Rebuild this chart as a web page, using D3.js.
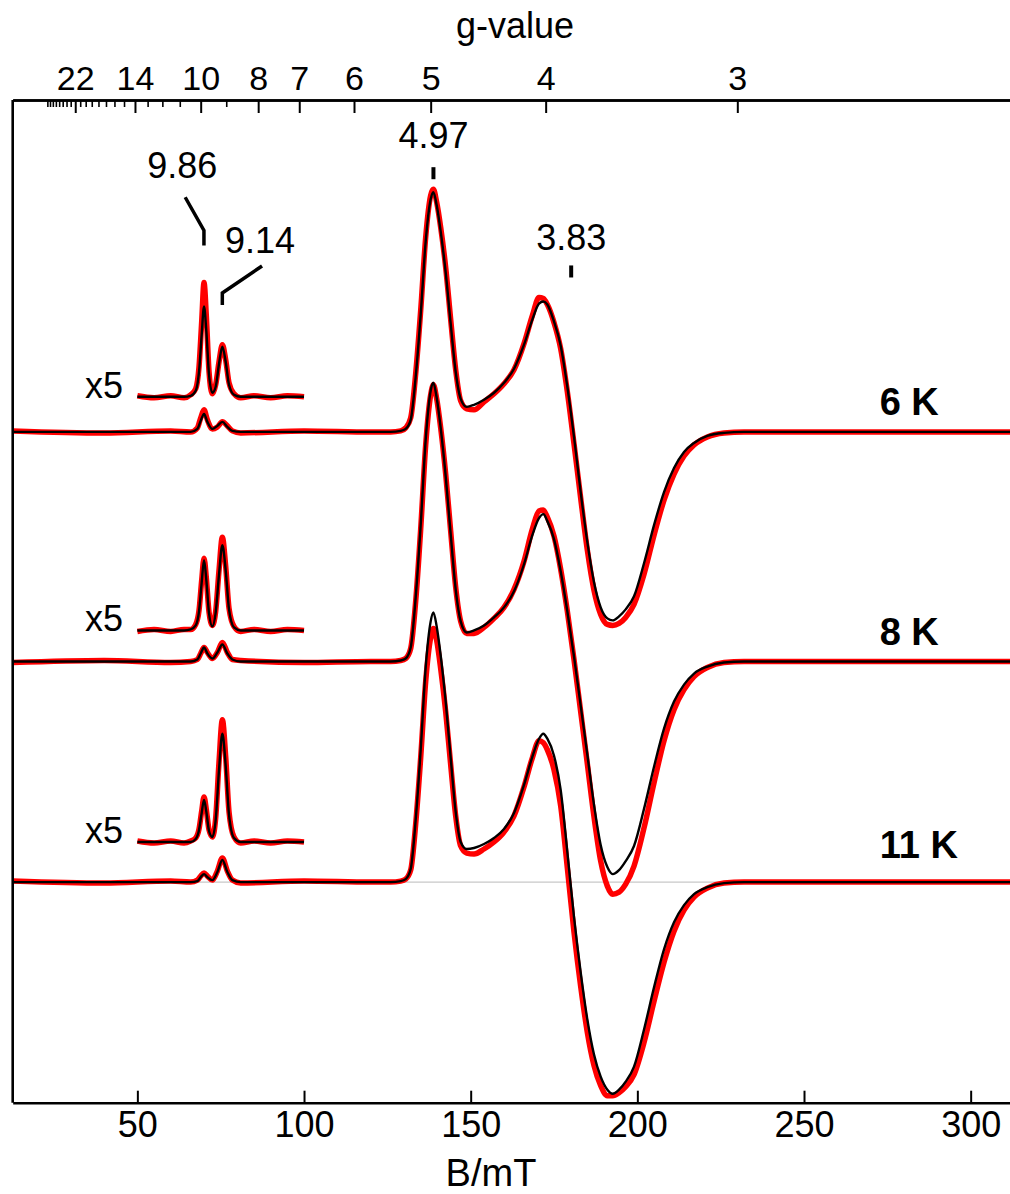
<!DOCTYPE html>
<html>
<head>
<meta charset="utf-8">
<script src="https://cdn.jsdelivr.net/npm/d3@7"></script>
<style>
  body { margin: 0; background: #fff; }
  svg { display: block; font-family: "Liberation Sans", Arial, Helvetica, sans-serif; }
</style>
</head>
<body>
<svg id="chart"></svg>
<script>
// microwave frequency (GHz), used to turn g-values into field positions
const mwFreq = 9.657;

const gMajor = [22, 14, 10, 8, 7, 6, 5, 4, 3];
const gMinor = [9, 11, 12, 13, 15, 16, 17, 18, 19, 20, 21, 23, 24, 25, 26, 27, 28, 29, 30];
const fieldTicks = [50, 100, 150, 200, 250, 300];

const temps = ["6 K", "8 K", "11 K"];

// full spectra, B in mT, intensity in a.u.
const fieldMain = [12.6, 40, 60, 66, 68, 69, 70, 71, 72.5, 74, 75.5, 77, 78.5, 81, 100, 120,
  126, 129, 130.5, 132, 133.5, 135, 136.5, 138, 138.8, 139.8, 141, 142.5, 144, 145.5, 147, 148.8,
  151, 154, 157, 160, 163, 166, 168.5, 170.5, 171.8, 173, 175, 177, 179, 181, 183, 185, 187, 189, 191, 192.6,
  194.5, 196.5, 199, 202, 205, 208, 211, 214, 217, 221, 226, 232, 240, 260, 312.4];

const sim6K = [0, 0, 0, 0, 3, 11, 18, 10, 3, 6, 10, 5, 1, 0, 0, 0,
  0, 1, 3, 12, 55, 117, 190, 232, 239, 226, 200, 159, 108, 60, 33, 25,
  27, 32, 39, 49, 63, 87, 112, 128, 130, 127, 110, 86, 45, -5, -60, -110, -150, -175, -186, -188,
  -184, -177, -164, -131, -93, -60, -36, -20, -11, -4, -1, 0, 0, 0, 0];
const exp6K = [1, -1, 1, 0, 4, 14, 22, 12, 3, 5, 10, 6, 1, -1, 1, 0,
  0, 1, 4, 14, 58, 121, 194, 236, 242, 229, 204, 164, 112, 62, 31, 23,
  22, 30, 38, 48, 62, 88, 116, 134, 133, 127, 109, 83, 40, -12, -66, -118, -158, -182, -192, -193,
  -191, -185, -172, -142, -103, -68, -42, -24, -13, -5, -1, 0, 0, 0, 0];

const sim8K = [0, 0, 0, 0, 2, 8, 14, 8, 3, 9, 17, 8, 2, 0, 0, 0,
  0, 1, 3, 14, 64, 136, 221, 270, 278, 263, 233, 185, 127, 72, 40, 29,
  31, 36, 44, 54, 70, 97, 126, 143, 147, 140, 122, 90, 50, 5, -44, -93, -143, -183, -205, -212,
  -208, -199, -184, -147, -105, -67, -40, -23, -12, -5, -1, 0, 0, 0, 0];
const exp8K = [-1, 1, -1, 0, 2, 8, 14, 9, 3, 9, 19, 9, 2, 1, -1, 0,
  0, 1, 3, 13, 60, 132, 216, 266, 276, 262, 233, 187, 130, 74, 40, 28,
  28, 34, 43, 54, 72, 100, 132, 150, 151, 144, 125, 92, 50, 2, -50, -102, -155, -199, -224, -232,
  -230, -222, -204, -166, -121, -79, -48, -28, -15, -6, -1, 0, 0, 0, 0];

const sim11K = [0, 0, 0, 0, 1, 5, 8, 5, 2, 10, 22, 10, 2, 0, 0, 0,
  0, 1, 3, 13, 62, 132, 214, 260, 269, 255, 226, 180, 124, 70, 40, 33,
  34, 38, 44, 53, 69, 97, 125, 143, 148, 143, 126, 92, 30, -35, -90, -137, -172, -194, -207, -211,
  -207, -199, -184, -147, -105, -67, -40, -23, -12, -5, -1, 0, 0, 0, 0];
const exp11K = [1, -1, 1, 0, 2, 6, 9, 6, 2, 11, 24, 11, 2, -1, 1, 0,
  0, 1, 3, 12, 58, 124, 200, 244, 253, 241, 213, 170, 117, 66, 36, 29,
  28, 33, 40, 50, 66, 95, 124, 141, 139, 132, 112, 76, 14, -50, -104, -150, -183, -203, -213, -213,
  -210, -204, -192, -160, -119, -80, -49, -28, -15, -6, -1, 0, 0, 0, 0];

// low-field region shown x5
const fieldZoom = [50, 55, 60, 64, 66, 67.5, 68.5, 69.3, 70, 70.7, 71.5, 72.5, 73.5, 74.5, 75.5, 76.5, 77.5, 79, 81, 85, 90, 95, 100];
const sim6Kx5 = [0, 0, 0, 0, 1, 6, 25, 62, 90, 65, 22, 4, 10, 33, 50, 35, 12, 2, 0, 0, 0, 0, 0];
const exp6Kx5 = [1, -1, 1, -1, 2, 8, 30, 75, 114, 80, 25, 3, 12, 35, 52, 37, 14, 3, -1, 1, -1, 1, 0];
const sim8Kx5 = [0, 0, 0, 0, 1, 5, 19, 48, 70, 50, 17, 4, 18, 56, 85, 60, 21, 3, 0, 0, 0, 0, 0];
const exp8Kx5 = [-1, 1, -1, 1, 1, 6, 20, 50, 72, 52, 18, 5, 19, 60, 93, 64, 22, 4, -1, 1, -1, 1, 0];
const sim11Kx5 = [0, 0, 0, 0, 0, 3, 12, 29, 42, 30, 11, 5, 22, 72, 108, 76, 27, 4, 0, 0, 0, 0, 0];
const exp11Kx5 = [1, -1, 1, -1, 1, 4, 13, 31, 45, 32, 12, 5, 24, 80, 122, 85, 30, 5, -1, 1, -1, 1, 0];

const width = 1010;
const height = 1194;

const svg = d3.select("#chart")
  .attr("width", width)
  .attr("height", height);

const x = d3.scaleLinear().domain([12.6, 312.4]).range([12.7, 1012]);
const y = d3.scaleLinear().domain([-220, 780]).range([1102.7, 100]);

const gToB = g => 71.4477 * mwFreq / g;
const bToG = b => 71.4477 * mwFreq / b;

// vertical stacking of the three temperatures
const offsets = [449, 220, 0];
const zoomOffsets = [484, 251, 40];

svg.append("clipPath").attr("id", "plot")
  .append("rect")
  .attr("x", x.range()[0]).attr("y", y.range()[1])
  .attr("width", x.range()[1] - x.range()[0])
  .attr("height", y.range()[0] - y.range()[1]);

// zero line of the lowest spectrum
svg.append("line")
  .attr("x1", x.range()[0]).attr("x2", x.range()[1])
  .attr("y1", y(0)).attr("y2", y(0))
  .attr("stroke", "#c8c8c8").attr("stroke-width", 1.2);

const plot = svg.append("g").attr("clip-path", "url(#plot)");

function drawPair(field, expVals, simVals, offset) {
  const line = d3.line()
    .x((d, i) => x(field[i]))
    .y(d => y(d + offset))
    .curve(d3.curveMonotoneX);
  plot.append("path")
    .attr("d", line(expVals))
    .attr("fill", "none")
    .attr("stroke", "#ff0000")
    .attr("stroke-width", 5.5)
    .attr("stroke-linejoin", "round");
  plot.append("path")
    .attr("d", line(simVals))
    .attr("fill", "none")
    .attr("stroke", "#000")
    .attr("stroke-width", 2.4)
    .attr("stroke-linejoin", "round");
}

const expMain = [exp6K, exp8K, exp11K];
const simMain = [sim6K, sim8K, sim11K];
const expZoom = [exp6Kx5, exp8Kx5, exp11Kx5];
const simZoom = [sim6Kx5, sim8Kx5, sim11Kx5];

temps.forEach((t, i) => {
  drawPair(fieldMain, expMain[i], simMain[i], offsets[i]);
  drawPair(fieldZoom, expZoom[i], simZoom[i], zoomOffsets[i]);
});

// axes
function styleAxis(g, size) {
  g.attr("font-size", null).attr("font-family", null);
  g.select(".domain").attr("stroke", "#000").attr("stroke-width", 2.6);
  g.selectAll(".tick line").attr("stroke", "#000").attr("stroke-width", 2);
  g.selectAll(".tick text").attr("fill", "#000").attr("font-size", size);
}

svg.append("g")
  .attr("transform", `translate(0,${y.range()[0]})`)
  .call(d3.axisBottom(x).tickValues(fieldTicks).tickSizeInner(-12).tickSizeOuter(0).tickPadding(9))
  .call(g => styleAxis(g, 36));

svg.append("g")
  .attr("transform", `translate(0,${y.range()[1]})`)
  .call(d3.axisTop(x)
    .tickValues(gMinor.map(gToB).filter(b => b > x.domain()[0]))
    .tickSizeInner(-7).tickSizeOuter(0).tickFormat(""))
  .call(g => styleAxis(g, 10))
  .call(g => g.selectAll(".tick line").attr("stroke-width", 1.6));

svg.append("g")
  .attr("transform", `translate(0,${y.range()[1]})`)
  .call(d3.axisTop(x)
    .tickValues(gMajor.map(gToB))
    .tickSizeInner(-13).tickSizeOuter(0).tickPadding(10)
    .tickFormat(b => Math.round(bToG(b))))
  .call(g => styleAxis(g, 34));

svg.append("line")
  .attr("x1", x.range()[0]).attr("x2", x.range()[0])
  .attr("y1", y.range()[1]).attr("y2", y.range()[0])
  .attr("stroke", "#000").attr("stroke-width", 2.6);

svg.append("text")
  .attr("x", 515).attr("y", 38)
  .attr("text-anchor", "middle")
  .attr("font-size", 36)
  .text("g-value");

svg.append("text")
  .attr("x", 491).attr("y", 1186)
  .attr("text-anchor", "middle")
  .attr("font-size", 38)
  .text("B/mT");

// temperature labels
const tempLift = [17, 16, 24];
temps.forEach((t, i) => {
  svg.append("text")
    .attr("x", x(272.7))
    .attr("y", y(offsets[i] + tempLift[i]))
    .attr("font-size", 38)
    .attr("font-weight", "bold")
    .text(t);
  svg.append("text")
    .attr("x", x(45.7))
    .attr("y", y(zoomOffsets[i] - 1))
    .attr("text-anchor", "end")
    .attr("font-size", 36)
    .text("x5");
});

// g-value markers
const marks = [
  { g: 4.97, labelY: 732, bar: [713, 701] },
  { g: 3.83, labelY: 630, bar: [615, 603] }
];
marks.forEach(m => {
  svg.append("text")
    .attr("x", x(gToB(m.g))).attr("y", y(m.labelY))
    .attr("text-anchor", "middle")
    .attr("font-size", 36)
    .text(m.g.toFixed(2));
  svg.append("line")
    .attr("x1", x(gToB(m.g))).attr("x2", x(gToB(m.g)))
    .attr("y1", y(m.bar[0])).attr("y2", y(m.bar[1]))
    .attr("stroke", "#000").attr("stroke-width", 4);
});

const leaders = [
  { g: 9.86, labelB: 63.45, labelY: 702, pts: [[64.35, 683], [null, 650], [null, 635]] },
  { g: 9.14, labelB: 86.8, labelY: 627.5, pts: [[87.4, 614.5], [null, 587.5], [null, 575.6]] }
];
leaders.forEach(l => {
  const b = gToB(l.g);
  svg.append("text")
    .attr("x", x(l.labelB)).attr("y", y(l.labelY))
    .attr("text-anchor", "middle")
    .attr("font-size", 36)
    .text(l.g.toFixed(2));
  svg.append("path")
    .attr("d", d3.line()(l.pts.map(p => [x(p[0] === null ? b : p[0]), y(p[1])])))
    .attr("fill", "none")
    .attr("stroke", "#000")
    .attr("stroke-width", 3.5);
});
</script>
</body>
</html>
